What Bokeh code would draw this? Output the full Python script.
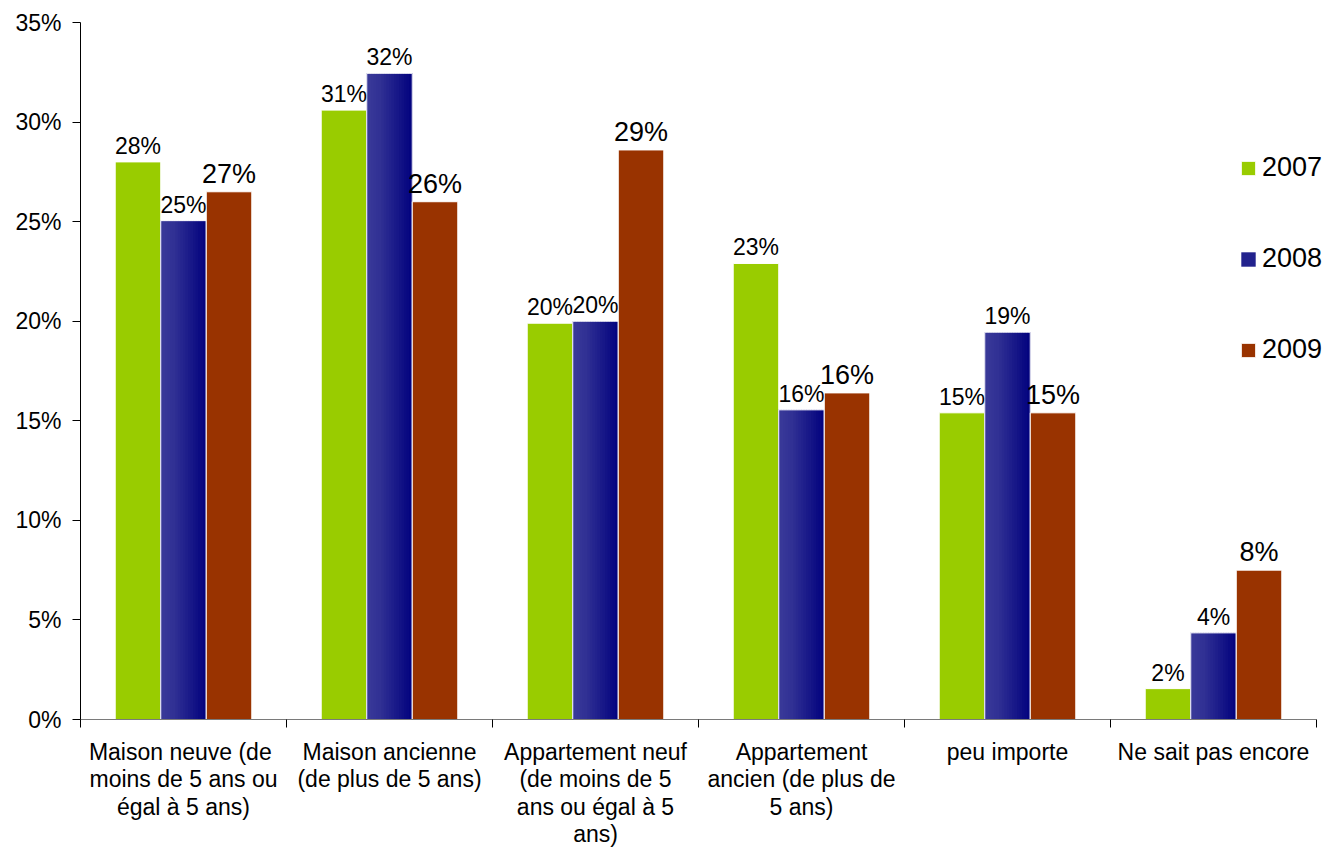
import math
from bokeh.plotting import figure
from bokeh.models import (Range1d, FixedTicker, Legend, LegendItem,
                          ColumnDataSource)
from bokeh.embed import file_html
from bokeh.resources import INLINE
from bokeh.core.properties import value

# ---------------- data ----------------
categories = [
    "Maison neuve  (de\nmoins de 5 ans ou\négal à 5 ans)",
    "Maison ancienne\n(de plus de 5 ans)",
    "Appartement neuf\n(de moins de 5\nans ou égal à 5\nans)",
    "Appartement\nancien (de plus de\n5 ans)",
    "peu importe",
    "Ne sait pas encore",
]
years = ["2007", "2008", "2009"]
v2007 = [28.0, 30.6, 19.9, 22.9, 15.4, 1.55]
v2008 = [25.05, 32.45, 20.0, 15.55, 19.45, 4.35]
v2009 = [26.5, 26.0, 28.6, 16.4, 15.4, 7.5]
y_ticks = [0, 5, 10, 15, 20, 25, 30, 35]

# ---------------- style ----------------
FONT = "Liberation Sans"
GREEN = "#99cc00"
RED = "#993300"
BAR_W = 0.221
N_STRIPS = 18
W, H = 1328, 850
LEFT, TOP, AXIS_RIGHT, BOTTOM = 80, 22, 1316, 131

def pct(v):
    return "%d%%" % math.floor(v + 0.5)

def blue_at(t):
    c0, c1, c2 = (58, 58, 154), (49, 49, 148), (2, 2, 126)
    if t < 0.3:
        a, b, u = c0, c1, t / 0.3
    else:
        a, b, u = c1, c2, (t - 0.3) / 0.7
    r, g, bl = (round(a[j] + (b[j] - a[j]) * u) for j in range(3))
    return "#%02x%02x%02x" % (r, g, bl)

n = len(categories)
x_end = n * (W - LEFT) / (AXIS_RIGHT - LEFT)   # frame reaches the page edge
p = figure(width=W, height=H, output_backend="svg", toolbar_location=None,
           x_range=Range1d(0, x_end), y_range=Range1d(0, 35),
           min_border_left=LEFT, min_border_right=0, min_border_top=TOP,
           min_border_bottom=BOTTOM)
p.outline_line_color = None
p.grid.visible = False
p.background_fill_color = "white"
p.border_fill_color = "white"

# y axis
p.yaxis.ticker = FixedTicker(ticks=y_ticks)
p.yaxis.major_label_overrides = {t: "%d%%" % t for t in y_ticks}
p.yaxis.major_label_text_font = FONT
p.yaxis.major_label_text_font_size = "23px"
p.yaxis.major_label_text_color = "black"
p.yaxis.major_tick_in = 0
p.yaxis.major_tick_out = 8
p.yaxis.minor_tick_line_color = None
p.yaxis.axis_line_color = "black"
p.yaxis.major_tick_line_color = "black"
p.yaxis.major_label_standoff = 11

# x axis: labels at category centres, tick marks at category boundaries
centers = [i + 0.5 for i in range(n)]
x_bounds = list(range(n + 1))
p.xaxis.bounds = (0, n)
p.xaxis.ticker = FixedTicker(ticks=centers, minor_ticks=x_bounds)
p.xaxis.major_label_overrides = {c: cat for c, cat in zip(centers, categories)}
p.xaxis.major_label_text_font = FONT
p.xaxis.major_label_text_font_size = "23px"
p.xaxis.major_label_text_color = "black"
p.xaxis.major_label_text_line_height = 1.06
p.xaxis.major_label_text_align = "center"
p.xaxis.major_label_orientation = "horizontal"
p.xaxis.major_label_standoff = 11
p.xaxis.major_tick_in = 0
p.xaxis.major_tick_out = 0
p.xaxis.major_tick_line_color = None
p.xaxis.minor_tick_in = 0
p.xaxis.minor_tick_out = 8
p.xaxis.minor_tick_line_color = "black"
p.xaxis.axis_line_color = "#7a7a7a"

x07 = [c - BAR_W for c in centers]
x08 = centers
x09 = [c + BAR_W for c in centers]

r07 = p.vbar(x=x07, top=v2007, width=BAR_W, fill_color=GREEN,
             line_color="white", line_width=1)

# gradient bars for 2008 made of thin vertical strips
sx, st, sc = [], [], []
sw = BAR_W / N_STRIPS
for c, v in zip(x08, v2008):
    for k in range(N_STRIPS):
        sx.append(c - BAR_W / 2 + (k + 0.5) * sw)
        st.append(v)
        sc.append(blue_at((k + 0.5) / N_STRIPS))
strip_src = ColumnDataSource(dict(x=sx, top=st, color=sc))
r08 = p.vbar(x="x", top="top", width=sw * 1.35, fill_color="color",
             line_color=None, source=strip_src)
p.vbar(x=x08, top=v2008, width=BAR_W, fill_alpha=0, line_color="white",
       line_width=1)

r09 = p.vbar(x=x09, top=v2009, width=BAR_W, fill_color=RED,
             line_color="white", line_width=1)

# value labels
for xs, vs, size, off in ((x07, v2007, "23px", -16), (x08, v2008, "23px", -16),
                          (x09, v2009, "27px", -18)):
    p.text(x=xs, y=vs, text=[pct(v) for v in vs], text_align="center",
           text_baseline="alphabetic", y_offset=off, text_font=value(FONT),
           text_font_size=size, text_color="black")

legend = Legend(items=[
    LegendItem(label=years[0], renderers=[r07]),
    LegendItem(label=years[1], renderers=[r08], index=N_STRIPS // 2),
    LegendItem(label=years[2], renderers=[r09]),
], location=(1159, 354), orientation="vertical")
legend.glyph_width = 18
legend.glyph_height = 18
legend.label_standoff = 5
legend.label_text_font = FONT
legend.label_text_font_size = "27px"
legend.label_text_color = "black"
legend.spacing = 60
legend.padding = 0
legend.margin = 0
legend.border_line_color = None
legend.background_fill_alpha = 0
p.add_layout(legend)

open("out.html", "w").write(file_html(p, INLINE))
